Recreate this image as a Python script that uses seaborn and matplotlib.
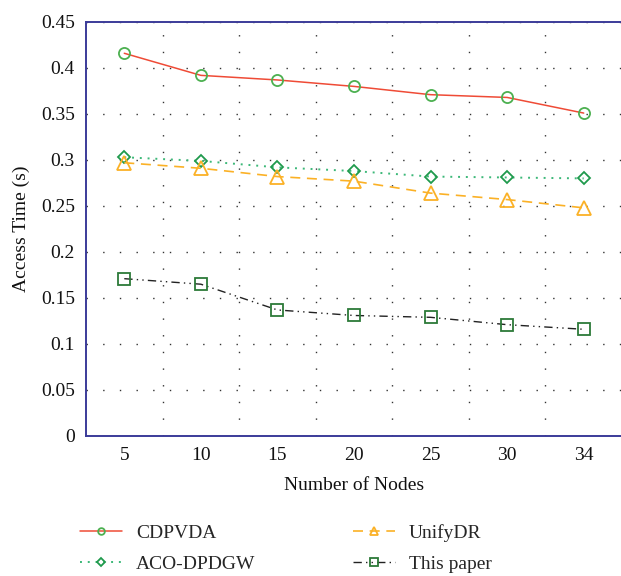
import matplotlib
matplotlib.use("Agg")
import matplotlib.pyplot as plt
import seaborn as sns
import pandas as pd
from matplotlib.ticker import FixedLocator

nodes = ["5", "10", "15", "20", "25", "30", "34"]
cdpvda = [0.416, 0.392, 0.387, 0.380, 0.371, 0.368, 0.351]
aco_dpdgw = [0.303, 0.299, 0.292, 0.288, 0.282, 0.281, 0.280]
unifydr = [0.297, 0.291, 0.282, 0.277, 0.264, 0.257, 0.248]
this_paper = [0.171, 0.165, 0.137, 0.131, 0.129, 0.121, 0.116]

series_names = ["CDPVDA", "ACO-DPDGW", "UnifyDR", "This paper"]
series_values = [cdpvda, aco_dpdgw, unifydr, this_paper]
y_ticks = [0, 0.05, 0.1, 0.15, 0.2, 0.25, 0.3, 0.35, 0.4, 0.45]
y_tick_labels = ["0", "0.05", "0.1", "0.15", "0.2", "0.25", "0.3", "0.35", "0.4", "0.45"]

sns.set_theme(style="white")
plt.rcParams["font.family"] = ["Liberation Serif", "DejaVu Serif"]

fig = plt.figure(figsize=(6.21, 5.76), dpi=100)
ax = fig.add_axes([86 / 621, 1 - 436 / 576, 536 / 621, (436 - 22) / 576])

styles = {
    "CDPVDA": dict(color="#ef4b36", ls="-", marker="o", mec="#4cb050", ms=8, lw=1.1),
    "ACO-DPDGW": dict(color="#3cb878", ls=(0, (1, 3)), marker="D", mec="#1f9a4c", ms=6.5, lw=1.4),
    "UnifyDR": dict(color="#fbb126", ls=(0, (6, 4)), marker="^", mec="#fbb126", ms=9.5, lw=1.2),
    "This paper": dict(color="#222222", ls=(0, (6, 3, 1, 3, 1, 3)), marker="s", mec="#2c7a38", ms=8.5, lw=1.0),
}

for name, vals in zip(series_names, series_values):
    df = pd.DataFrame({"Nodes": nodes, "Time": vals})
    st = styles[name]
    sns.lineplot(data=df, x="Nodes", y="Time", ax=ax, label=name,
                 color=st["color"], linestyle=st["ls"], linewidth=st["lw"],
                 marker=st["marker"], markersize=st["ms"], markerfacecolor="none",
                 markeredgecolor=st["mec"], markeredgewidth=1.3, sort=False)

ax.set_xlim(-0.5, 6.5)
ax.set_ylim(0, 0.45)
ax.set_yticks(y_ticks)
ax.set_yticklabels(y_tick_labels)
ax.xaxis.set_minor_locator(FixedLocator([0.5, 1.5, 2.5, 3.5, 4.5, 5.5]))

ax.grid(False)
ax.yaxis.grid(True, which="major", color="#333333", linestyle=(0, (1, 11)), linewidth=1.0)
ax.xaxis.grid(True, which="minor", color="#333333", linestyle=(0, (1, 11)), linewidth=1.0)
ax.set_axisbelow(True)

for s in ["left", "top", "bottom"]:
    ax.spines[s].set_color("#3b3b99")
    ax.spines[s].set_linewidth(1.4)
ax.spines["right"].set_visible(False)

ax.tick_params(axis="both", which="both", length=0, labelsize=14, colors="#111111", pad=8)
ax.set_xlabel("Number of Nodes", fontsize=14, color="#111111", labelpad=9)
ax.set_ylabel("Access Time (s)", fontsize=14, color="#111111", labelpad=8)

handles, labels = ax.get_legend_handles_labels()
ax.legend_.remove()
fig.legend(handles, labels, loc="upper left", bbox_to_anchor=(0.10, 0.12), ncol=2,
           frameon=False, fontsize=14, handlelength=2.2, handletextpad=0.7,
           columnspacing=5.0, labelspacing=0.65, markerscale=0.6)

fig.savefig("out.png", dpi=100, facecolor="white")
